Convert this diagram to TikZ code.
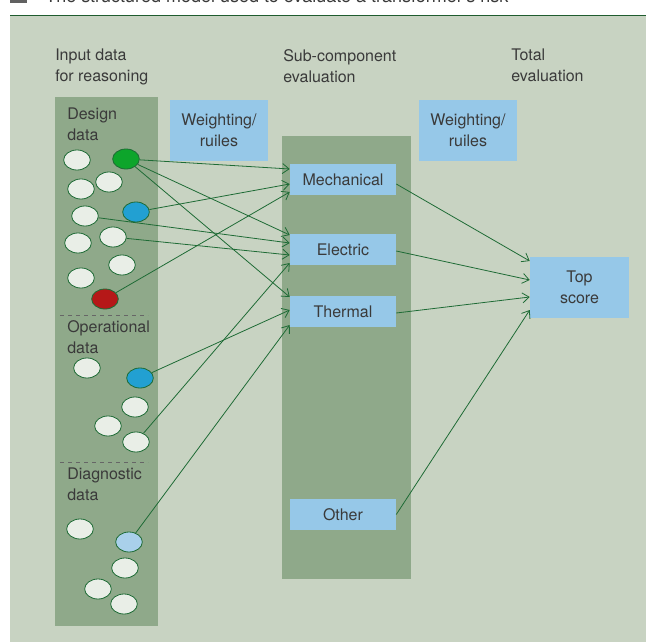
\documentclass[tikz,border=0pt]{standalone}
\usepackage{fontspec}
\setmainfont{TeX Gyre Heros}
\usetikzlibrary{shapes.geometric,arrows.meta,calc}

\definecolor{panel}{HTML}{C8D3C2}
\definecolor{column}{HTML}{8FA98A}
\definecolor{boxblue}{HTML}{96C8E8}
\definecolor{linkgreen}{HTML}{1E6B35}
\definecolor{rulegreen}{HTML}{1F5C2E}
\definecolor{dotwhite}{HTML}{E9EEE7}
\definecolor{dotgreen}{HTML}{0DA52B}
\definecolor{dotblue}{HTML}{22A0D2}
\definecolor{dotred}{HTML}{B51818}
\definecolor{dotlight}{HTML}{A9D0EA}
\definecolor{txt}{HTML}{3A3A3A}

\begin{document}
\begin{tikzpicture}[x=0.75pt,y=-0.75pt,
    every node/.style={font=\fontsize{12}{15.75}\selectfont,text=txt},
    label text/.style={anchor=north west,align=left,inner sep=0pt},
    dot/.style={ellipse,draw=linkgreen,line width=0.6pt,fill=dotwhite,minimum width=20pt,minimum height=15pt,inner sep=0pt},
    evalbox/.style={fill=boxblue,inner sep=0pt,minimum width=79.5pt,minimum height=23.25pt},
    rulebox/.style={fill=boxblue,inner sep=0pt,align=center,minimum width=73.5pt,minimum height=45pt},
    link/.style={draw=linkgreen,line width=0.6pt,-{Straight Barb[length=5pt,width=7.5pt]}}]
    \useasboundingbox (0,0) rectangle (646,642);
    % caption and panel
    \fill[txt!80] (10,-12) rectangle (27,3);
    \node[anchor=base west,inner sep=0pt,font=\fontsize{13.5}{16}\selectfont] (caption) at (45,3) {The structured model used to evaluate a transformer's risk};
    \fill[panel] (10,16) rectangle (646,642);
    \draw[rulegreen,line width=1.2pt] (10,15.5) -- (646,15.5);
    \fill[column] (55,97) rectangle (158,626);
    \fill[column] (282,136) rectangle (411,579);
    \draw[gray!80!black,dashed] (60,315) -- (148,315);
    \draw[gray!80!black,dashed] (60,462) -- (148,462);

    % headings
    \node[label text] (hin) at (55,49) {Input data\\for reasoning};
    \node[label text] (hsub) at (283,49) {Sub-component\\evaluation};
    \node[label text] (htot) at (511,49) {Total\\evaluation};
    \node[label text] (ldes) at (67,108) {Design\\data};
    \node[label text] (lop) at (67,320) {Operational\\data};
    \node[label text] (ldia) at (67,468) {Diagnostic\\data};

    % weighting and evaluation boxes
    \node[rulebox] (w1) at (219,130.5) {Weighting/\\ruiles};
    \node[rulebox] (w2) at (468,130.5) {Weighting/\\ruiles};
    \node[evalbox] (mech) at (343,179.5) {Mechanical};
    \node[evalbox] (elec) at (343,249.5) {Electric};
    \node[evalbox] (therm) at (343,311.5) {Thermal};
    \node[evalbox] (other) at (343,514.5) {Other};
    \node[rulebox,minimum width=74.25pt,minimum height=45.75pt] (top) at (579.5,287.5) {Top\\score};

    % design data
    \node[dot] (des1) at (77,160) {};
    \node[dot,fill=dotgreen] (desg) at (126,159) {};
    \node[dot] (des2) at (81,189) {};
    \node[dot] (des3) at (109,182) {};
    \node[dot] (des4) at (85,216) {};
    \node[dot,fill=dotblue] (desb) at (136,212) {};
    \node[dot] (des5) at (78,243) {};
    \node[dot] (des6) at (113,237) {};
    \node[dot] (des7) at (122,265) {};
    \node[dot] (des8) at (81,278) {};
    \node[dot,fill=dotred] (desr) at (105,299) {};
    % operational data
    \node[dot] (op1) at (87,368) {};
    \node[dot,fill=dotblue] (opb) at (140,378) {};
    \node[dot] (op2) at (135,407) {};
    \node[dot] (op3) at (108,426) {};
    \node[dot] (op4) at (136,442) {};
    % diagnostic data
    \node[dot] (dia1) at (80,529) {};
    \node[dot,fill=dotlight] (diab) at (129,542) {};
    \node[dot] (dia2) at (125,568) {};
    \node[dot] (dia3) at (98,589) {};
    \node[dot] (dia4) at (124,604) {};

    % links to sub-components
    \draw[link] (desg) -- ($(mech.west)+(0,-10.5)$);
    \draw[link] (desg) -- ($(elec.west)+(0,-14.5)$);
    \draw[link] (desg) -- ($(therm.west)+(0,-14.5)$);
    \draw[link] (desb) -- ($(mech.west)+(0,4.5)$);
    \draw[link] (desr) -- ($(mech.west)+(0,12.5)$);
    \draw[link] (des4) -- ($(elec.west)+(0,-6.5)$);
    \draw[link] (des6) -- ($(elec.west)+(0,5.5)$);
    \draw[link] (op4) -- ($(elec.west)+(0,13.5)$);
    \draw[link] (opb) -- ($(therm.west)+(0,-1.5)$);
    \draw[link] (diab) -- ($(therm.west)+(0,13.5)$);

    % links to total
    \draw[link] ($(mech.east)+(0,4.5)$) -- ($(top.west)+(0,-26.5)$);
    \draw[link] ($(elec.east)+(0,1.5)$) -- ($(top.west)+(0,-7.5)$);
    \draw[link] ($(therm.east)+(0,1.5)$) -- ($(top.west)+(0,9.5)$);
    \draw[link] (other.east) -- ($(top.west)+(0,22.5)$);
\end{tikzpicture}
\end{document}
